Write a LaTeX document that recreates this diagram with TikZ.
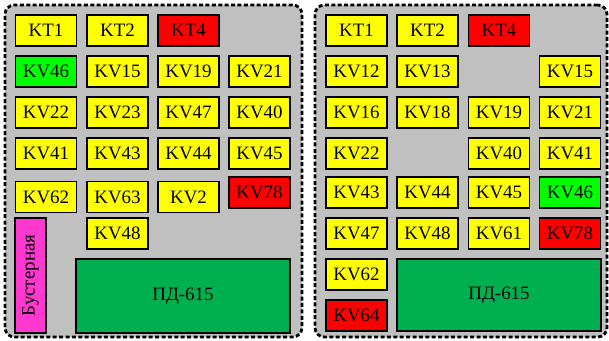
\documentclass[tikz,border=0pt]{standalone}
\usepackage{fontspec}
\setmainfont{Liberation Serif}
\definecolor{cyel}{HTML}{FFFF00}
\definecolor{cred}{HTML}{FF0000}
\definecolor{cgrn}{HTML}{00FF00}
\definecolor{cpd}{HTML}{00B050}
\definecolor{cmag}{HTML}{FF38D0}
\definecolor{cgray}{HTML}{C0C0C0}
\begin{document}
\begin{tikzpicture}[x=0.75pt,y=-0.75pt,
  panel/.style={draw=black, fill=cgray, line width=2.1pt, dash pattern=on 3pt off 1.8pt, rounded corners=7pt, inner sep=0pt, outer sep=0pt},
  box/.style={draw=black, line width=1.1pt, inner sep=0pt, outer sep=0pt, minimum width=45.75pt, minimum height=23.25pt, font=\fontsize{14.2}{16}\selectfont},
  yb/.style={box, fill=cyel},
  rb/.style={box, fill=cred},
  gb/.style={box, fill=cgrn}]
\useasboundingbox (0,0) rectangle (609,340);
% panels
\node[panel, minimum width=222.75pt, minimum height=249pt] (PL) at (153.5,171) {};
\node[panel, minimum width=219pt, minimum height=249pt] (PR) at (461,171) {};
% left panel
\node[yb] (L1) at (46,30.5) {KT1};
\node[yb] (L2) at (117.5,30.5) {KT2};
\node[rb] (L3) at (188.5,30.5) {KT4};
\node[gb] (L4) at (46,71.5) {KV46};
\node[yb] (L5) at (117.5,71.5) {KV15};
\node[yb] (L6) at (188.5,71.5) {KV19};
\node[yb] (L7) at (259.5,71.5) {KV21};
\node[yb] (L8) at (46,112.5) {KV22};
\node[yb] (L9) at (117.5,112.5) {KV23};
\node[yb] (L10) at (188.5,112.5) {KV47};
\node[yb] (L11) at (259.5,112.5) {KV40};
\node[yb] (L12) at (46,153.5) {KV41};
\node[yb] (L13) at (117.5,153.5) {KV43};
\node[yb] (L14) at (188.5,153.5) {KV44};
\node[yb] (L15) at (259.5,153.5) {KV45};
\node[yb] (L16) at (46,197) {KV62};
\node[yb] (L17) at (117.5,197) {KV63};
\node[yb] (L18) at (188.5,197) {KV2};
\node[rb] (L19) at (259.5,192.5) {KV78};
\node[yb] (L20) at (117.5,233.5) {KV48};
\node[box, fill=cmag, minimum width=23.25pt, minimum height=86.25pt] (LB) at (30.5,275.5) {\rotatebox{90}{Бустерная}};
\node[box, fill=cpd, minimum width=160.5pt, minimum height=55.5pt] (LPD) at (183,296) {ПД-615};
% right panel
\node[yb] (R1) at (356.5,30.5) {KT1};
\node[yb] (R2) at (427.5,30.5) {KT2};
\node[rb] (R3) at (499,30.5) {KT4};
\node[yb] (R4) at (356.5,71.5) {KV12};
\node[yb] (R5) at (427.5,71.5) {KV13};
\node[yb] (R6) at (570,71.5) {KV15};
\node[yb] (R7) at (356.5,112.5) {KV16};
\node[yb] (R8) at (427.5,112.5) {KV18};
\node[yb] (R9) at (499,112.5) {KV19};
\node[yb] (R10) at (570,112.5) {KV21};
\node[yb] (R11) at (356.5,153.5) {KV22};
\node[yb] (R12) at (499,153.5) {KV40};
\node[yb] (R13) at (570,153.5) {KV41};
\node[yb] (R14) at (356.5,192.5) {KV43};
\node[yb] (R15) at (427.5,192.5) {KV44};
\node[yb] (R16) at (499,192.5) {KV45};
\node[gb] (R17) at (570,192.5) {KV46};
\node[yb] (R18) at (356.5,233.5) {KV47};
\node[yb] (R19) at (427.5,233.5) {KV48};
\node[yb] (R20) at (499,233.5) {KV61};
\node[rb] (R21) at (570,233.5) {KV78};
\node[yb] (R22) at (356.5,274.5) {KV62};
\node[rb] (R23) at (356.5,315.5) {KV64};
\node[box, fill=cpd, minimum width=153pt, minimum height=54pt] (RPD) at (499,295) {ПД-615};
\end{tikzpicture}
\end{document}
